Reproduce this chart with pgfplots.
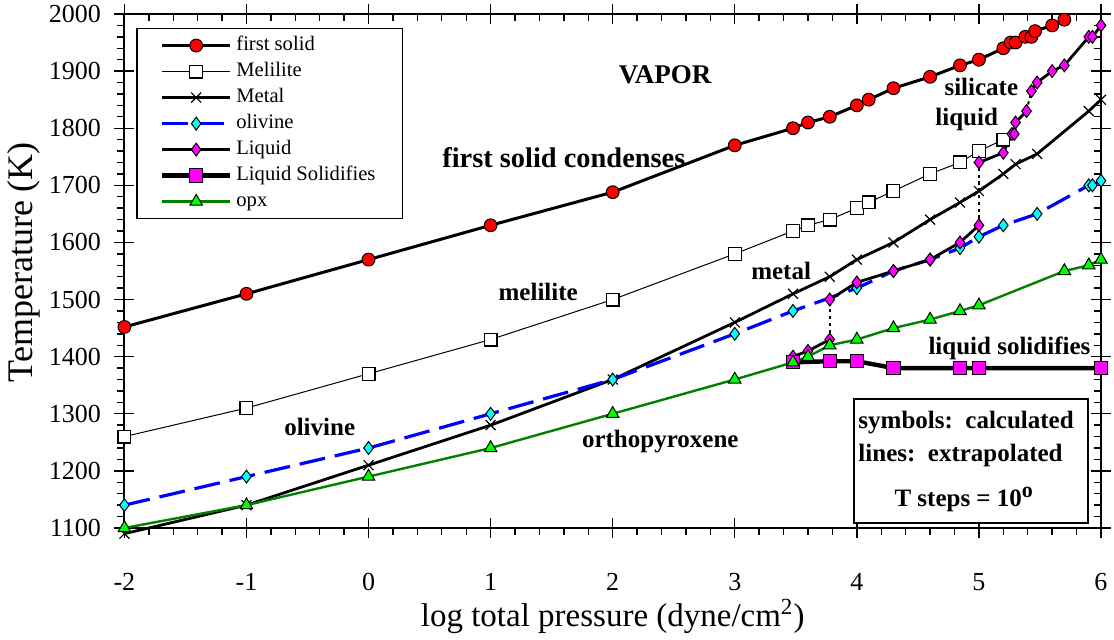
\documentclass[border=0pt]{standalone}
\usepackage{fontspec}
\setmainfont{Liberation Serif}
\usepackage{pgfplots}
\pgfplotsset{compat=1.18}
\definecolor{opxgreen}{RGB}{0,128,0}
\definecolor{olblue}{RGB}{0,0,255}
\definecolor{mag}{RGB}{255,0,255}
\definecolor{cyn}{RGB}{0,255,255}
\definecolor{lgreen}{RGB}{0,255,0}
\tikzset{lab/.style={font=\fontsize{12.5}{15}\selectfont\bfseries, inner sep=0pt}}
\begin{document}
\begin{tikzpicture}
\pgfplotsset{
  base/.style={scale only axis, width=488.3pt, height=257pt,
    xmin=-2, xmax=6, ymin=1100, ymax=2000,
    axis line style={line width=1pt},
    every tick/.style={black, line width=0.7pt},
    xtick={-2,...,6}, ytick={1100,1200,...,2000}},
}
% minor ticks pointing down / left on bottom and left axes
\begin{axis}[base, xticklabels={}, yticklabels={}, major tick length=0pt,
  minor x tick num=4, minor y tick num=4, minor tick length=3.5pt,
  tick align=outside, xtick pos=left, ytick pos=left]
\end{axis}
% minor ticks pointing down / left on top and right axes
\begin{axis}[base, xticklabels={}, yticklabels={}, major tick length=0pt,
  minor x tick num=4, minor y tick num=4, minor tick length=3.5pt,
  tick align=inside, xtick pos=right, ytick pos=right]
\end{axis}
\begin{axis}[base, clip=false,
  minor tick num=0, tick align=center, major tick length=10pt,
  /pgf/number format/1000 sep={},
  /pgf/number format/assume math mode=true,
  ticklabel style={font=\fontsize{13}{15}\selectfont},
  xticklabel style={yshift=-14pt},
  yticklabel style={xshift=-3.2pt},
  xlabel={log total pressure (dyne/cm\textsuperscript{2})},
  ylabel={Temperature (K)},
  xlabel style={font=\fontsize{16.5}{20}\selectfont, at={(axis description cs:0.5,-0.1926)}, anchor=base},
  ylabel style={font=\fontsize{18}{20}\selectfont, at={(axis description cs:-0.1025,0.517)}, anchor=center},
  legend style={at={(axis description cs:0.0123,0.9728)}, anchor=north west,
    draw=black, line width=0.6pt, inner xsep=11.5pt, inner ysep=2pt,
    font=\fontsize{10.3}{12}\selectfont,
    nodes={text height=7.5pt, text depth=2.5pt, inner ysep=1.5pt}},
  legend cell align=left,
  legend image code/.code={\draw[mark repeat=2,mark phase=2] plot coordinates {(0pt,0pt) (17pt,0pt) (34pt,0pt)};},
]
% first solid
\addplot[black, line width=1.5pt, mark=*, mark size=3.2pt,
  mark options={fill=red, draw=black, line width=0.5pt, solid}]
  coordinates {(-2,1452) (-1,1510) (0,1570) (1,1630) (2,1688) (3,1770)
  (3.477,1800) (3.6,1810) (3.778,1820) (4,1840) (4.097,1850) (4.3,1870)
  (4.6,1890) (4.845,1910) (5,1920) (5.2,1940) (5.26,1950) (5.3,1950)
  (5.38,1960) (5.43,1960) (5.46,1970) (5.6,1980) (5.7,1990)};
% Melilite
\addplot[black, line width=0.5pt, mark=square*, mark size=3.2pt,
  mark options={fill=white, draw=black, line width=0.6pt}]
  coordinates {(-2,1260) (-1,1310) (0,1370) (1,1430) (2,1500) (3,1580)
  (3.477,1620) (3.6,1630) (3.778,1640) (4,1660) (4.097,1670) (4.3,1690)
  (4.6,1720) (4.845,1740) (5,1760) (5.2,1780)};
% Metal
\addplot[black, line width=1.4pt, mark=x, mark size=3.5pt,
  mark options={line width=0.6pt}]
  coordinates {(-2,1090) (-1,1140) (0,1210) (1,1280) (2,1360) (3,1460)
  (3.477,1510) (3.778,1540) (4,1570) (4.3,1600) (4.6,1640) (4.845,1670)
  (5,1690) (5.2,1720) (5.3,1737) (5.477,1755) (5.9,1830) (6,1850)};
% olivine
\addplot[olblue, line width=1.6pt, dash pattern=on 13pt off 5pt,
  mark=diamond*, mark size=3.2pt,
  mark options={fill=cyn, draw=black, line width=0.5pt, solid}]
  coordinates {(-2,1140) (-1,1190) (0,1240) (1,1300) (2,1360) (3,1440)
  (3.477,1480) (4,1520) (4.3,1550) (4.6,1570) (4.845,1590) (5,1610)
  (5.2,1630) (5.477,1650) (5.9,1700) (5.93,1700) (6,1708)};
% Liquid
\addplot[black, line width=1.4pt, mark=diamond*, mark size=3.2pt,
  mark options={fill=mag, draw=black, line width=0.5pt}]
  coordinates {(3.477,1400) (3.6,1410) (3.778,1430)};
\addplot[forget plot, black, line width=1pt, dash pattern=on 1.6pt off 1.8pt]
  coordinates {(3.778,1430) (3.778,1500)};
\addplot[forget plot, black, line width=1pt, dash pattern=on 1.6pt off 1.8pt]
  coordinates {(5,1630) (5,1740)};
\addplot[forget plot, black, line width=1pt, dash pattern=on 1.6pt off 1.8pt]
  coordinates {(5.39,1830) (5.43,1865)};
\addplot[forget plot, black, line width=1.4pt, mark=diamond*, mark size=3.2pt,
  mark options={fill=mag, draw=black, line width=0.5pt}]
  coordinates {(3.778,1500) (4,1530) (4.3,1550) (4.6,1570) (4.845,1600) (5,1630)};
\addplot[forget plot, black, line width=1.4pt, mark=diamond*, mark size=3.2pt,
  mark options={fill=mag, draw=black, line width=0.5pt}]
  coordinates {(5,1740) (5.2,1757) (5.27,1790) (5.29,1790) (5.3,1810) (5.39,1830)};
\addplot[forget plot, black, line width=1.4pt, mark=diamond*, mark size=3.2pt,
  mark options={fill=mag, draw=black, line width=0.5pt}]
  coordinates {(5.43,1865) (5.477,1880) (5.6,1900) (5.7,1910) (5.9,1960) (5.93,1960) (6,1980)};
% Liquid Solidifies
\addplot[black, line width=2.2pt, mark=square*, mark size=3.3pt,
  mark options={fill=mag, draw=black, line width=0.5pt}]
  coordinates {(3.477,1390) (3.778,1392) (4,1392) (4.3,1380) (4.845,1380) (5,1380) (6,1380)};
% opx
\addplot[opxgreen, line width=1.2pt, mark=triangle*, mark size=3.6pt,
  mark options={fill=lgreen, draw=black, line width=0.5pt}]
  coordinates {(-2,1100) (-1,1140) (0,1190) (1,1240) (2,1300) (3,1360)
  (3.477,1390) (3.6,1400) (3.778,1420) (4,1430) (4.3,1450) (4.6,1465)
  (4.845,1480) (5,1490) (5.7,1550) (5.9,1560) (6,1570)};
\legend{first solid, Melilite, Metal, olivine, Liquid, Liquid Solidifies, opx}
% annotations
\node[lab, font=\fontsize{13.5}{16}\selectfont\bfseries] at (axis cs:2.43,1893) {VAPOR};
\node[lab, font=\fontsize{14.2}{16}\selectfont\bfseries] at (axis cs:1.60,1748) {first solid condenses};
\node[lab] at (axis cs:1.39,1514) {melilite};
\node[lab] at (axis cs:3.38,1550) {metal};
\node[lab] at (axis cs:5.02,1872) {silicate};
\node[lab] at (axis cs:4.90,1816) {liquid};
\node[lab] at (axis cs:5.25,1415) {liquid solidifies};
\node[lab] at (axis cs:-0.40,1277) {olivine};
\node[lab] at (axis cs:2.39,1251) {orthopyroxene};
\draw[line width=1pt, fill=white] (axis cs:3.976,1325.3) rectangle (axis cs:5.896,1108.7);
\node[lab, anchor=base west] at (axis cs:4.01,1275) {symbols:\ \ calculated};
\node[lab, anchor=base west] at (axis cs:4.01,1216) {lines:\ \ extrapolated};
\node[lab, anchor=base] at (axis cs:4.88,1137.7) {T steps = 10\textsuperscript{\fontsize{11}{12}\selectfont o}};
\end{axis}
\pgfresetboundingbox
\path (-62.2pt,-56pt) rectangle (494.8pt,264pt);
\end{tikzpicture}
\end{document}
